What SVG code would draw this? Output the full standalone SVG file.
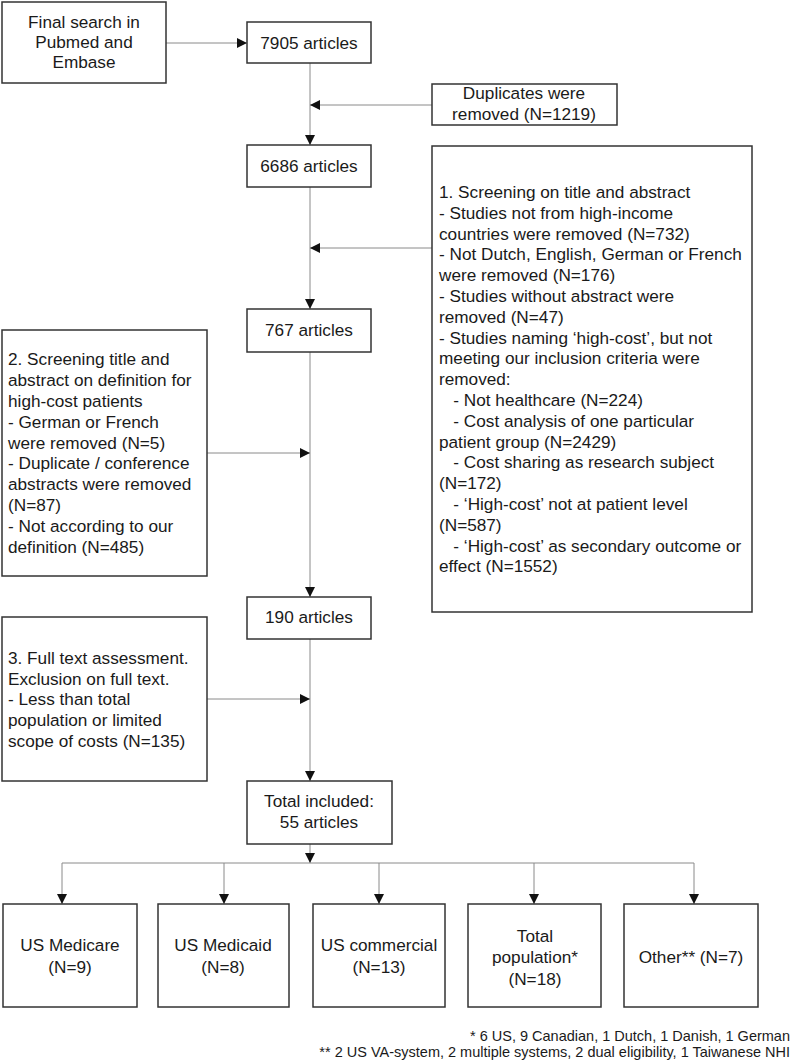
<svg xmlns="http://www.w3.org/2000/svg" width="794" height="1063" viewBox="0 0 794 1063">
<defs>
<style>
.box{fill:#fff;stroke:#333;stroke-width:1.5}
.t{font-family:"Liberation Sans",Arial,sans-serif;font-size:17.2px;fill:#1a1a1a}
.c{text-anchor:middle}
.ln{stroke:#8a8a8a;stroke-width:1;fill:none}
.f{font-family:"Liberation Sans",Arial,sans-serif;font-size:14.5px;fill:#1a1a1a;text-anchor:end}
</style>
<marker id="ah" viewBox="0 0 10 10" refX="10" refY="5" markerWidth="12" markerHeight="10" markerUnits="userSpaceOnUse" orient="auto">
<path d="M0,0 L10,5 L0,10 z" fill="#111"/>
</marker>
</defs>
<rect width="794" height="1063" fill="#fff"/>
<g id="connectors">
<line class="ln" x1="166" y1="43" x2="247" y2="43" marker-end="url(#ah)"/>
<line class="ln" x1="310" y1="63" x2="310" y2="145" marker-end="url(#ah)"/>
<line class="ln" x1="432" y1="105" x2="310" y2="105" marker-end="url(#ah)"/>
<line class="ln" x1="310" y1="187" x2="310" y2="309" marker-end="url(#ah)"/>
<line class="ln" x1="432" y1="248" x2="310" y2="248" marker-end="url(#ah)"/>
<line class="ln" x1="310" y1="352" x2="310" y2="597" marker-end="url(#ah)"/>
<line class="ln" x1="207" y1="453" x2="310" y2="453" marker-end="url(#ah)"/>
<line class="ln" x1="310" y1="639" x2="310" y2="781" marker-end="url(#ah)"/>
<line class="ln" x1="207" y1="699" x2="310" y2="699" marker-end="url(#ah)"/>
<line class="ln" x1="310" y1="844" x2="310" y2="863" marker-end="url(#ah)"/>
<line class="ln" x1="62" y1="863" x2="694" y2="863"/>
<line class="ln" x1="62" y1="863" x2="62" y2="904" marker-end="url(#ah)"/>
<line class="ln" x1="224" y1="863" x2="224" y2="904" marker-end="url(#ah)"/>
<line class="ln" x1="379" y1="863" x2="379" y2="904" marker-end="url(#ah)"/>
<line class="ln" x1="534" y1="863" x2="534" y2="904" marker-end="url(#ah)"/>
<line class="ln" x1="694" y1="863" x2="694" y2="904" marker-end="url(#ah)"/>
</g>
<g id="search">
<rect class="box" x="2" y="2" width="164" height="81"/>
<text class="t c" x="84" y="28">Final search in</text>
<text class="t c" x="84" y="48">Pubmed and</text>
<text class="t c" x="84" y="68">Embase</text>
</g>
<g id="n7905">
<rect class="box" x="247" y="22" width="124" height="41"/>
<text class="t c" x="309" y="49">7905 articles</text>
</g>
<g id="duplicates">
<rect class="box" x="432" y="84" width="185" height="41"/>
<text class="t c" x="524" y="99">Duplicates were</text>
<text class="t c" x="524" y="120">removed (N=1219)</text>
</g>
<g id="n6686">
<rect class="box" x="247" y="145" width="124" height="42"/>
<text class="t c" x="309" y="172">6686 articles</text>
</g>
<g id="screening1">
<rect class="box" x="432" y="146" width="320" height="466"/>
<text class="t" x="439" y="198">1. Screening on title and abstract</text>
<text class="t" x="439" y="219">- Studies not from high-income</text>
<text class="t" x="439" y="240">countries were removed (N=732)</text>
<text class="t" x="439" y="260">- Not Dutch, English, German or French</text>
<text class="t" x="439" y="281">were removed (N=176)</text>
<text class="t" x="439" y="302">- Studies without abstract were</text>
<text class="t" x="439" y="323">removed (N=47)</text>
<text class="t" x="439" y="344">- Studies naming ‘high-cost’, but not</text>
<text class="t" x="439" y="364">meeting our inclusion criteria were</text>
<text class="t" x="439" y="385">removed:</text>
<text class="t" x="439" y="406" xml:space="preserve">   - Not healthcare (N=224)</text>
<text class="t" x="439" y="427" xml:space="preserve">   - Cost analysis of one particular</text>
<text class="t" x="439" y="448">patient group (N=2429)</text>
<text class="t" x="439" y="468" xml:space="preserve">   - Cost sharing as research subject</text>
<text class="t" x="439" y="489">(N=172)</text>
<text class="t" x="439" y="510" xml:space="preserve">   - ‘High-cost’ not at patient level</text>
<text class="t" x="439" y="531">(N=587)</text>
<text class="t" x="439" y="552" xml:space="preserve">   - ‘High-cost’ as secondary outcome or</text>
<text class="t" x="439" y="572">effect (N=1552)</text>
</g>
<g id="n767">
<rect class="box" x="247" y="309" width="124" height="43"/>
<text class="t c" x="309" y="336">767 articles</text>
</g>
<g id="screening2">
<rect class="box" x="2" y="330" width="205" height="246"/>
<text class="t" x="8" y="365">2. Screening title and</text>
<text class="t" x="8" y="386">abstract on definition for</text>
<text class="t" x="8" y="407">high-cost patients</text>
<text class="t" x="8" y="428">- German or French</text>
<text class="t" x="8" y="449">were removed (N=5)</text>
<text class="t" x="8" y="469">- Duplicate / conference</text>
<text class="t" x="8" y="490">abstracts were removed</text>
<text class="t" x="8" y="511">(N=87)</text>
<text class="t" x="8" y="532">- Not according to our</text>
<text class="t" x="8" y="553">definition (N=485)</text>
</g>
<g id="n190">
<rect class="box" x="247" y="597" width="124" height="42"/>
<text class="t c" x="309" y="623">190 articles</text>
</g>
<g id="fulltext">
<rect class="box" x="2" y="617" width="205" height="164"/>
<text class="t" x="8" y="664">3. Full text assessment.</text>
<text class="t" x="8" y="685">Exclusion on full text.</text>
<text class="t" x="8" y="705">- Less than total</text>
<text class="t" x="8" y="726">population or limited</text>
<text class="t" x="8" y="747">scope of costs (N=135)</text>
</g>
<g id="included">
<rect class="box" x="247" y="781" width="145" height="63"/>
<text class="t c" x="319" y="807">Total included:</text>
<text class="t c" x="319" y="828">55 articles</text>
</g>
<g id="medicare">
<rect class="box" x="3" y="904" width="134" height="103"/>
<text class="t c" x="70" y="951">US Medicare</text>
<text class="t c" x="70" y="973">(N=9)</text>
</g>
<g id="medicaid">
<rect class="box" x="158" y="904" width="131" height="103"/>
<text class="t c" x="223" y="951">US Medicaid</text>
<text class="t c" x="223" y="973">(N=8)</text>
</g>
<g id="commercial">
<rect class="box" x="313" y="904" width="132" height="103"/>
<text class="t c" x="379" y="951">US commercial</text>
<text class="t c" x="379" y="973">(N=13)</text>
</g>
<g id="totalpop">
<rect class="box" x="468" y="904" width="133" height="103"/>
<text class="t c" x="535" y="942">Total</text>
<text class="t c" x="535" y="963">population*</text>
<text class="t c" x="535" y="985">(N=18)</text>
</g>
<g id="other">
<rect class="box" x="624" y="904" width="134" height="103"/>
<text class="t c" x="691" y="963">Other** (N=7)</text>
</g>
<g id="footnotes">
<text class="f" x="790" y="1041">* 6 US, 9 Canadian, 1 Dutch, 1 Danish, 1 German</text>
<text class="f" x="790" y="1057">** 2 US VA-system, 2 multiple systems, 2 dual eligibility, 1 Taiwanese NHI</text>
</g>
</svg>
